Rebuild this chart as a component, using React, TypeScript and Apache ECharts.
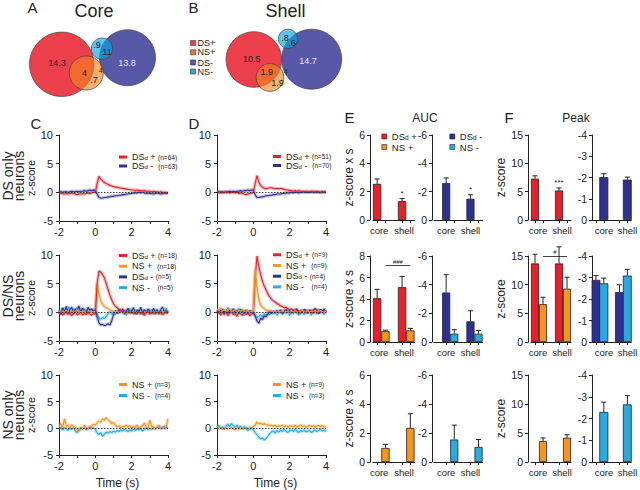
import React, { useEffect, useRef } from 'react';
import * as echarts from 'echarts';

const FONT = '"Liberation Sans", Arial, Helvetica, sans-serif';
const RED = '#e8202a';
const ORANGE = '#f7941d';
const NAVY = '#2e3192';
const CYAN = '#29abe2';
const INK = '#222';

// ---------- time axis (s) ----------
const timeS = [-2, -1.9, -1.8, -1.7, -1.6, -1.5, -1.4, -1.3, -1.2, -1.1, -1, -0.9, -0.8, -0.7, -0.6, -0.5, -0.4, -0.3, -0.2, -0.1,
  0, 0.1, 0.2, 0.3, 0.4, 0.5, 0.6, 0.7, 0.8, 0.9, 1, 1.1, 1.2, 1.3, 1.4, 1.5, 1.6, 1.7, 1.8, 1.9, 2,
  2.1, 2.2, 2.3, 2.4, 2.5, 2.6, 2.7, 2.8, 2.9, 3, 3.1, 3.2, 3.3, 3.4, 3.5, 3.6, 3.7, 3.8, 3.9, 4];

// ---------- C/D traces (z-score) ----------
const C1_DSp = [-0.2, -0.1, -0.2, -0.3, -0.2, -0.3, -0.2, -0.1, -0.2, -0.3, -0.4, -0.3, -0.3, -0.2, -0.3, -0.2, -0.1, -0.2, -0.1, 0.0,
  0.0, 1.5, 2.8, 2.3, 2.0, 1.7, 1.5, 1.4, 1.2, 1.1, 1.0,
  0.9, 0.9, 0.8, 0.7, 0.7, 0.6, 0.6, 0.5, 0.5, 0.4,
  0.4, 0.3, 0.4, 0.3, 0.3, 0.2, 0.3, 0.2, 0.2, 0.2, 0.1, 0.2, 0.1, 0.1, 0.0, 0.1, 0.0, -0.1, 0.0, -0.1];
const C1_DSm = [0.0, 0.1, 0.0, 0.1, 0.1, 0.0, 0.1, 0.2, 0.1, 0.1, 0.2, 0.1, 0.2, 0.2, 0.3, 0.2, 0.3, 0.4, 0.3, 0.4,
  0.3, -0.3, -0.9, -1.0, -1.0, -0.9, -0.9, -0.8, -0.8, -0.7, -0.7,
  -0.6, -0.6, -0.5, -0.5, -0.4, -0.4, -0.3, -0.3, -0.2, -0.2,
  -0.1, -0.1, -0.1, 0.0, -0.1, 0.0, -0.1, -0.2, -0.1, -0.2, -0.2, -0.3, -0.2, -0.1, -0.2, -0.3, -0.2, -0.1, -0.2, -0.1];
const D1_DSp = [0.0, 0.1, 0.0, -0.1, 0.0, 0.1, 0.0, -0.1, 0.0, 0.0, -0.1, 0.0, -0.2, -0.1, -0.2, -0.3, -0.4, -0.3, -0.2, -0.1,
  0.0, 1.5, 2.9, 1.8, 1.2, 0.9, 0.7, 0.6, 0.7, 0.8, 0.8,
  0.7, 0.6, 0.7, 0.6, 0.7, 0.6, 0.5, 0.4, 0.4, 0.3,
  0.3, 0.2, 0.3, 0.2, 0.3, 0.2, 0.2, 0.1, 0.2, 0.2, 0.1, 0.2, 0.1, 0.2, 0.1, 0.1, 0.0, 0.1, 0.1, 0.0];
const D1_DSm = [0.1, 0.0, 0.1, 0.1, 0.0, 0.1, 0.1, 0.2, 0.1, 0.2, 0.1, 0.2, 0.2, 0.3, 0.2, 0.3, 0.3, 0.4, 0.3, 0.4,
  0.4, -0.4, -0.9, -0.9, -0.8, -0.8, -0.7, -0.6, -0.6, -0.5, -0.5,
  -0.4, -0.4, -0.3, -0.3, -0.3, -0.2, -0.2, -0.1, -0.1, -0.1,
  0.0, -0.1, 0.0, 0.0, -0.1, 0.0, 0.0, 0.1, 0.0, 0.0, 0.0, 0.1, 0.0, 0.0, 0.1, 0.0, 0.0, 0.1, 0.0, 0.0];

const C2_DSp = [-0.3, 0.1, -0.5, -0.2, 0.2, -0.4, -0.1, -0.6, -0.2, 0.1, -0.4, -0.3, 0.0, -0.5, -0.2, -0.4, 0.1, -0.3, -0.5, -0.2,
  -0.3, 5.0, 7.2, 7.0, 6.6, 6.0, 5.0, 4.0, 3.0, 2.2, 1.5,
  1.1, 0.8, 0.5, 0.4, 0.2, 0.3, 0.0, 0.2, -0.1, 0.1,
  -0.2, 0.0, -0.3, 0.1, -0.2, 0.0, -0.4, -0.1, 0.1, -0.3, -0.1, 0.0, -0.3, 0.1, -0.2, 0.0, -0.4, -0.1, 0.0, -0.2];
const C2_NSp = [0.2, -0.1, 0.3, 0.0, 0.4, 0.1, -0.2, 0.3, 0.0, 0.2, 0.5, -0.1, 0.2, 0.0, 0.3, -0.2, 0.1, 0.3, 0.0, 0.2,
  0.1, 5.0, 3.2, 2.0, 1.4, 1.0, 0.8, 0.6, 0.4, 0.3, 0.2,
  0.1, 0.2, 0.0, 0.1, -0.1, 0.1, 0.0, -0.2, 0.1, 0.0,
  -0.1, 0.1, -0.2, 0.0, 0.2, -0.1, 0.0, 0.1, -0.2, 0.0, 0.1, -0.1, 0.0, 0.2, -0.1, 0.0, -0.2, 0.1, 0.0, -0.1];
const C2_DSm = [0.3, -0.4, 0.8, 0.2, 1.0, -0.2, 0.5, 0.9, -0.3, 0.6, 0.2, 1.1, 0.0, 0.7, 0.4, -0.2, 0.9, 0.3, 0.6, 0.2,
  0.4, -0.8, -1.8, -2.2, -2.1, -2.3, -2.2, -2.0, -2.2, -1.5, -0.4,
  0.3, -0.2, 0.5, 0.0, 0.6, -0.3, 0.2, 0.7, -0.1, 0.3,
  0.8, -0.2, 0.4, 0.1, 0.9, -0.3, 0.5, 0.0, 0.6, 0.2, -0.2, 0.7, 0.1, 0.4, -0.3, 0.5, 0.9, 0.0, 0.3, -0.1];
const C2_NSm = [0.5, 0.0, 0.7, -0.3, 0.4, 1.0, 0.2, -0.2, 0.6, 0.3, 0.9, -0.1, 0.4, 0.7, 0.1, 0.5, -0.3, 0.6, 0.2, 0.4,
  0.2, -0.4, -1.0, -1.2, -0.9, -1.1, -0.7, -0.2, 0.1, -0.3, 0.0,
  -0.4, 0.2, -0.2, 0.4, -0.1, 0.3, -0.5, 0.1, 0.6, -0.2,
  0.2, -0.4, 0.5, 0.0, -0.3, 0.4, -0.6, 0.1, 0.3, -0.2, 0.5, -0.3, 0.0, 0.6, -0.2, 0.3, -0.4, 0.2, 0.7, -0.1];

const D2_DSp = [-0.2, 0.3, -0.5, 0.0, -0.3, 0.2, -0.6, -0.1, 0.1, -0.4, -0.2, -0.7, 0.0, -0.3, -0.5, 0.1, -0.4, -0.2, -0.6, -0.3,
  -0.2, 6.0, 9.8, 8.0, 6.6, 5.4, 4.6, 3.9, 3.2, 2.7, 2.3,
  2.0, 1.8, 1.5, 1.4, 1.1, 1.0, 0.8, 0.9, 0.6, 0.5,
  0.6, 0.2, 0.4, 0.0, 0.3, -0.2, 0.4, 0.1, -0.1, 0.3, 0.0, 0.4, -0.2, 0.2, 0.5, -0.1, 0.3, 0.0, 0.2, -0.1];
const D2_NSp = [0.6, 0.4, 0.7, 0.3, 0.5, 0.2, 0.4, 0.6, 0.1, 0.3, 0.4, 0.0, 0.3, 0.2, 0.5, 0.1, 0.3, 0.2, 0.0, 0.2,
  0.1, 7.5, 4.5, 2.2, 1.3, 0.9, 0.6, 0.4, 0.3, 0.3, 0.2,
  0.1, 0.2, 0.0, 0.2, 0.1, 0.3, 0.0, 0.1, 0.2, -0.1,
  0.2, 0.0, 0.3, 0.1, -0.1, 0.2, 0.4, 0.0, 0.1, 0.3, 0.0, 0.2, 0.1, 0.4, 0.0, 0.2, 0.3, 0.1, 0.0, 0.2];
const D2_DSm = [0.2, -0.1, 0.3, 0.5, 0.0, 0.2, -0.2, 0.4, 0.1, 0.6, 0.0, 0.3, -0.1, 0.5, 0.2, 0.0, 0.4, -0.2, 0.3, 0.1,
  0.0, -0.6, -1.5, -1.9, -1.0, -1.3, -0.6, -0.8, -0.3, 0.1, -0.2,
  0.2, -0.1, 0.3, 0.0, 0.4, -0.2, 0.2, 0.5, 0.0, 0.3,
  -0.1, 0.4, 0.1, 0.6, -0.2, 0.3, 0.0, 0.5, 0.2, -0.1, 0.4, 0.0, 0.3, 0.7, 0.1, -0.2, 0.5, 0.2, 0.6, 0.0];
const D2_NSm = [0.4, -0.3, 0.6, 0.0, -0.5, 0.3, 0.8, -0.2, 0.2, 0.5, -0.4, 0.1, 0.7, -0.1, 0.3, -0.6, 0.4, 0.0, -0.3, 0.2,
  -0.2, -0.5, -0.9, -0.7, -0.4, -0.8, -0.2, -0.5, 0.1, -0.4, 0.2,
  -0.3, 0.3, -0.5, 0.0, 0.4, -0.4, 0.2, -0.2, 0.5, -0.6,
  0.1, -0.3, 0.6, -0.1, -0.5, 0.3, 0.0, -0.4, 0.5, -0.2, 0.2, -0.5, 0.4, 0.0, -0.3, 0.6, -0.1, 0.2, -0.4, 0.3];

const C3_NSp = [0.3, 0.9, 0.0, 1.8, 0.4, 0.6, -0.2, 0.7, 0.3, 0.2, -0.3, -0.5, 0.2, 0.0, 0.6, 0.1, -0.2, 0.5, 0.2, 0.8,
  0.6, 1.0, 1.4, 1.2, 1.8, 1.5, 2.0, 1.6, 1.3, 0.9, 1.1,
  0.6, 0.3, 0.5, 0.1, 0.4, 0.3, 0.6, 0.2, 0.5, 0.0,
  0.4, 0.2, 0.6, -0.1, 0.3, 0.5, 1.0, 0.2, 0.0, 1.6, 0.3, 0.4, -0.2, 0.3, 0.6, 0.0, 0.2, -0.1, 0.4, 1.8];
const C3_NSm = [-0.1, 0.2, -0.3, 0.1, 0.0, -0.4, 0.2, -0.2, 0.1, -0.5, -0.8, -0.3, 0.0, -0.2, 0.1, -0.3, 0.0, 0.2, -0.1, 0.1,
  -0.2, -0.9, -1.2, -0.8, -1.5, -1.1, -0.7, -0.9, -0.6, -0.8, -0.5,
  -0.7, -0.4, -0.6, -0.3, -0.5, -0.2, -0.4, -0.6, -0.3, -0.5,
  -0.2, -0.4, -0.1, -0.3, 0.0, -0.5, -0.2, 0.1, -0.3, 0.0, -0.2, 0.2, -0.1, 0.1, 0.3, 0.0, 0.2, 0.4, 0.1, 0.3];
const D3_NSp = [0.1, 0.0, 0.2, -0.1, 0.0, 0.1, -0.2, 0.0, 0.1, -0.1, -0.3, 0.0, -0.2, 0.1, 0.0, -0.1, 0.2, 0.0, 0.1, 0.0,
  0.3, 0.6, 1.2, 0.8, 1.0, 0.7, 0.9, 0.6, 0.7, 0.5, 0.6,
  0.4, 0.6, 0.3, 0.5, 0.4, 0.6, 0.3, 0.5, 0.2, 0.4,
  0.5, 0.3, 0.6, 0.2, 0.4, 0.7, 0.3, 0.5, 0.2, 0.4, 0.6, 0.3, 0.5, 0.2, 0.4, 0.6, 0.3, 0.5, 0.2, 0.4];
const D3_NSm = [0.2, 0.5, 0.0, 0.3, -0.2, 0.4, 0.8, 0.3, 0.9, 0.5, 0.2, 0.6, 0.1, 0.4, -0.1, 0.3, 0.0, -0.4, -0.2, 0.1,
  -0.3, -0.8, -1.2, -1.6, -2.0, -1.8, -2.2, -1.9, -1.5, -1.0, -0.7,
  -0.5, -0.9, -0.4, -0.7, -0.3, -0.6, -0.2, -0.5, -0.8, -0.4,
  -0.3, -0.6, -0.2, -0.5, -0.8, -0.4, -0.6, -0.3, -0.7, -0.5, -0.4, -0.8, -0.5, -0.3, -0.6, -0.4, -0.2, -0.5, -0.3, -0.6];

// ---------- E (AUC) and F (Peak): [core, shell] means and SEM ----------
const groups = ['core', 'shell'];
const E1_DSp = [2.55, 1.33], E1_DSp_sem = [0.35, 0.19];
const E1_DSm = [-2.6, -1.5], E1_DSm_sem = [0.37, 0.28];
const E2_DSp = [4.07, 5.1], E2_DSp_sem = [0.83, 1.0];
const E2_NSp = [1.0, 1.08], E2_NSp_sem = [0.1, 0.19];
const E2_DSm = [-3.45, -1.44], E2_DSm_sem = [1.25, 0.74];
const E2_NSm = [-0.58, -0.58], E2_NSm_sem = [0.28, 0.22];
const E3_NSp = [0.97, 2.35], E3_NSp_sem = [0.25, 0.98];
const E3_NSm = [-1.55, -1.04], E3_NSm_sem = [0.99, 0.51];
const F1_DSp = [7.3, 5.2], F1_DSp_sem = [0.5, 0.46];
const F1_DSm = [-2.02, -1.9], F1_DSm_sem = [0.16, 0.12];
const F2_DSp = [13.7, 13.7], F2_DSp_sem = [1.6, 2.9];
const F2_NSp = [6.6, 9.3], F2_NSp_sem = [1.2, 2.0];
const F2_DSm = [-2.89, -2.32], F2_DSm_sem = [0.2, 0.34];
const F2_NSm = [-2.73, -3.09], F2_NSm_sem = [0.24, 0.29];
const F3_NSp = [3.6, 4.2], F3_NSp_sem = [0.55, 0.5];
const F3_NSm = [-2.3, -2.65], F3_NSm_sem = [0.45, 0.4];

// ---------- Venn (percent of neurons) ----------
const vennCoreLabels = ['14.3', '13.8', '4', '.7', '4', '.9', '11'];
const vennShellLabels = ['10.5', '14.7', '1.9', '1.9', '4', '.8', '.6'];
const vennLegend = ['DS+', 'NS+', 'DS-', 'NS-'];

const legendText: Record<string, string> = {
  C1p: '{a|DS}{s|d}{a| + }{n|(n=64)}', C1m: '{a|DS}{s|d}{a| -  }{n|(n=63)}',
  D1p: '{a|DS}{s|d}{a| + }{n|(n=51)}', D1m: '{a|DS}{s|d}{a| -  }{n|(n=70)}',
  C2p: '{a|DS}{s|d}{a| + }{n|(n=18)}', C2np: '{a|NS +  }{n|(n=18)}', C2m: '{a|DS}{s|d}{a| - }{n|(n=5)}', C2nm: '{a|NS -   }{n|(n=5)}',
  D2p: '{a|DS}{s|d}{a| + }{n|(n=9)}', D2np: '{a|NS +  }{n|(n=9)}', D2m: '{a|DS}{s|d}{a| - }{n|(n=4)}', D2nm: '{a|NS -   }{n|(n=4)}',
  C3np: '{a|NS + }{n|(n=3)}', C3nm: '{a|NS -  }{n|(n=4)}',
  D3np: '{a|NS + }{n|(n=9)}', D3nm: '{a|NS -  }{n|(n=3)}',
  'E DSd+': '{a|DS}{s|d}{a| +}', 'E NS+': '{a|NS +}', 'E DSd-': '{a|DS}{s|d}{a| -}', 'E NS-': '{a|NS -}',
};

const linePanels = [
  { left: 59, top: 135, height: 86, yName: 'z-score', xName: '', lg: { left: 119, top: 152.5, gap: 0 },
    traces: [{ key: 'C1m', color: NAVY, data: C1_DSm }, { key: 'C1p', color: RED, data: C1_DSp }], order: ['C1p', 'C1m'] },
  { left: 217, top: 135, height: 86, yName: '', xName: '', lg: { left: 273, top: 152, gap: 0 },
    traces: [{ key: 'D1m', color: NAVY, data: D1_DSm }, { key: 'D1p', color: RED, data: D1_DSp }], order: ['D1p', 'D1m'] },
  { left: 59, top: 255, height: 86, yName: 'z-score', xName: '', lg: { left: 119, top: 251, gap: 1.7 },
    traces: [{ key: 'C2nm', color: CYAN, data: C2_NSm }, { key: 'C2m', color: NAVY, data: C2_DSm },
      { key: 'C2np', color: ORANGE, data: C2_NSp }, { key: 'C2p', color: RED, data: C2_DSp }], order: ['C2p', 'C2np', 'C2m', 'C2nm'] },
  { left: 217, top: 255, height: 86, yName: '', xName: '', lg: { left: 273, top: 250.3, gap: 1.7 },
    traces: [{ key: 'D2nm', color: CYAN, data: D2_NSm }, { key: 'D2m', color: NAVY, data: D2_DSm },
      { key: 'D2p', color: RED, data: D2_DSp }, { key: 'D2np', color: ORANGE, data: D2_NSp }], order: ['D2p', 'D2np', 'D2m', 'D2nm'] },
  { left: 59, top: 375, height: 85, yName: 'z-score', xName: 'Time (s)', lg: { left: 119, top: 380, gap: 2 },
    traces: [{ key: 'C3nm', color: CYAN, data: C3_NSm }, { key: 'C3np', color: ORANGE, data: C3_NSp }], order: ['C3np', 'C3nm'] },
  { left: 217, top: 375, height: 85, yName: '', xName: 'Time (s)', lg: { left: 273, top: 380, gap: 2 },
    traces: [{ key: 'D3nm', color: CYAN, data: D3_NSm }, { key: 'D3np', color: ORANGE, data: D3_NSp }], order: ['D3np', 'D3nm'] },
];

const barCols: Record<string, any> = {
  EL: { left: 373, slotW: 8.3, n: 5, off: 3, a: [0, 3], b: [1, 4], ticks: [0, 1, 3, 4], lab: [0, 3], shift: 2 },
  ER: { left: 434, slotW: 8.1, n: 6, off: 2, a: [1, 4], b: [2, 5], ticks: [1, 2, 4, 5], lab: [1, 4], shift: 0 },
  FL: { left: 531, slotW: 8, n: 5, off: 3, a: [0, 3], b: [1, 4], ticks: [0, 1, 3, 4], lab: [0, 3], shift: 3 },
  FR: { left: 592, slotW: 9, n: 5, off: 0, a: [0, 3], b: [1, 4], ticks: [0, 1, 3, 4], lab: [0, 3], shift: 8 },
};
const barRows = [{ top: 135, height: 85 }, { top: 256, height: 86 }, { top: 375, height: 87 }];

const barPanels: any[] = [
  { col: 'EL', row: 0, min: 0, max: 6, step: 2, inv: false, yName: 'z-score x s',
    A: { key: 'E DSd+', color: RED, v: E1_DSp, e: E1_DSp_sem, notes: ['', '*'] }, B: { key: 'E NS+', color: ORANGE, v: [], e: [] } },
  { col: 'ER', row: 0, min: -6, max: 0, step: 2, inv: true, yName: '',
    A: { key: 'E DSd-', color: NAVY, v: E1_DSm, e: E1_DSm_sem, notes: ['', '*'] }, B: { key: 'E NS-', color: CYAN, v: [], e: [] } },
  { col: 'FL', row: 0, min: 0, max: 15, step: 5, inv: false, yName: 'z-score',
    A: { key: 'F1a', color: RED, v: F1_DSp, e: F1_DSp_sem, notes: ['', '***'] }, B: { key: 'F1b', color: ORANGE, v: [], e: [] } },
  { col: 'FR', row: 0, min: -4, max: 0, step: 1, inv: true, yName: '', aSlots: [1, 4],
    A: { key: 'F1c', color: NAVY, v: F1_DSm, e: F1_DSm_sem }, B: { key: 'F1d', color: CYAN, v: [], e: [] } },
  { col: 'EL', row: 1, min: 0, max: 8, step: 2, inv: false, yName: 'z-score x s', bracket: { y: 7.1, text: '###' },
    A: { key: 'E2a', color: RED, v: E2_DSp, e: E2_DSp_sem }, B: { key: 'E2b', color: ORANGE, v: E2_NSp, e: E2_NSp_sem } },
  { col: 'ER', row: 1, min: -6, max: 0, step: 2, inv: true, yName: '',
    A: { key: 'E2c', color: NAVY, v: E2_DSm, e: E2_DSm_sem }, B: { key: 'E2d', color: CYAN, v: E2_NSm, e: E2_NSm_sem } },
  { col: 'FL', row: 1, min: 0, max: 15, step: 5, inv: false, yName: 'z-score', bracket: { y: 15, text: '#' },
    A: { key: 'F2a', color: RED, v: F2_DSp, e: F2_DSp_sem }, B: { key: 'F2b', color: ORANGE, v: F2_NSp, e: F2_NSp_sem } },
  { col: 'FR', row: 1, min: -4, max: 0, step: 1, inv: true, yName: '',
    A: { key: 'F2c', color: NAVY, v: F2_DSm, e: F2_DSm_sem }, B: { key: 'F2d', color: CYAN, v: F2_NSm, e: F2_NSm_sem } },
  { col: 'EL', row: 2, min: 0, max: 6, step: 2, inv: false, yName: 'z-score x s',
    A: { key: 'E3a', color: RED, v: [], e: [] }, B: { key: 'E3b', color: ORANGE, v: E3_NSp, e: E3_NSp_sem } },
  { col: 'ER', row: 2, min: -6, max: 0, step: 2, inv: true, yName: '',
    A: { key: 'E3c', color: NAVY, v: [], e: [] }, B: { key: 'E3d', color: CYAN, v: E3_NSm, e: E3_NSm_sem } },
  { col: 'FL', row: 2, min: 0, max: 15, step: 5, inv: false, yName: 'z-score',
    A: { key: 'F3a', color: RED, v: [], e: [] }, B: { key: 'F3b', color: ORANGE, v: F3_NSp, e: F3_NSp_sem } },
  { col: 'FR', row: 2, min: -4, max: 0, step: 1, inv: true, yName: '',
    A: { key: 'F3c', color: NAVY, v: [], e: [] }, B: { key: 'F3d', color: CYAN, v: F3_NSm, e: F3_NSm_sem } },
];

function txt(text: string, x: number, y: number, size: number, extra: any = {}) {
  return {
    type: 'text', x, y, silent: true, ...extra,
    style: { text, fontSize: size, fontFamily: FONT, fill: INK, textAlign: 'center', textVerticalAlign: 'middle', ...(extra.style || {}) },
  };
}

function buildOption() {
  const grid: any[] = [], xAxis: any[] = [], yAxis: any[] = [], series: any[] = [], legend: any[] = [];
  const axisLine = { show: true, onZero: false, lineStyle: { color: INK, width: 1 } };
  const axisTick = { show: true, length: 3, lineStyle: { color: INK, width: 1 } };

  // ---- C / D line panels ----
  linePanels.forEach((p) => {
    const gi = grid.length;
    grid.push({ left: p.left, top: p.top, width: 109, height: p.height });
    xAxis.push({
      type: 'value', gridIndex: gi, min: -2, max: 4, interval: 1,
      axisLine, axisTick, splitLine: { show: false },
      axisLabel: { formatter: (v: number) => (v % 2 === 0 ? String(v) : ''), fontSize: 11, color: INK, margin: 5, fontFamily: FONT },
      name: p.xName, nameLocation: 'middle', nameGap: 22,
      nameTextStyle: { fontSize: 12, fontFamily: FONT, color: INK, padding: [0, 0, 0, 8] },
    });
    yAxis.push({
      type: 'value', gridIndex: gi, min: -5, max: 10, interval: 5,
      axisLine, axisTick, splitLine: { show: false },
      axisLabel: { fontSize: 11, color: INK, margin: 6, fontFamily: FONT },
      name: p.yName, nameLocation: 'middle', nameGap: 17, nameRotate: 90,
      nameTextStyle: { fontSize: 11, fontFamily: FONT, color: INK },
    });
    p.traces.forEach((t, k) => {
      const pts = timeS.map((s, i) => [s, t.data[i]]);
      series.push({
        type: 'line', name: t.key + '-band', xAxisIndex: gi, yAxisIndex: gi, data: pts, symbol: 'none', silent: true,
        lineStyle: { color: t.color, width: 3.5, opacity: 0.3 }, itemStyle: { color: t.color }, z: 2,
        markLine: k === 0 ? {
          silent: true, symbol: 'none', label: { show: false },
          lineStyle: { color: '#333', type: [1.5, 1.5], width: 0.9 }, data: [{ yAxis: 0 }],
        } : undefined,
      });
    });
    p.traces.forEach((t) => {
      const pts = timeS.map((s, i) => [s, t.data[i]]);
      series.push({
        type: 'line', name: t.key, xAxisIndex: gi, yAxisIndex: gi, data: pts, symbol: 'none', silent: true,
        lineStyle: { color: t.color, width: 1.1 }, itemStyle: { color: t.color }, z: 3,
      });
    });
    legend.push({
      left: p.lg.left, top: p.lg.top, orient: 'vertical', padding: 0, itemGap: p.lg.gap,
      itemWidth: 8, itemHeight: 3, icon: 'rect', selectedMode: false, data: p.order,
      formatter: (name: string) => legendText[name],
      textStyle: {
        color: INK, fontFamily: FONT, fontSize: 9,
        rich: {
          a: { fontSize: 9, lineHeight: 8, fontFamily: FONT, color: INK },
          s: { fontSize: 6, lineHeight: 5, verticalAlign: 'bottom', fontFamily: FONT, color: INK },
          n: { fontSize: 6.5, lineHeight: 8, fontFamily: FONT, color: INK },
        },
      },
    });
  });

  // ---- E / F bar panels ----
  barPanels.forEach((p) => {
    const c = barCols[p.col];
    const r = barRows[p.row];
    const gi = grid.length;
    const cats = Array.from({ length: c.n }, (_, i) => 's' + i);
    grid.push({ left: c.left, top: r.top, width: c.slotW * c.n, height: r.height });
    xAxis.push({
      type: 'category', gridIndex: gi, data: cats, axisLine,
      axisTick: { ...axisTick, alignWithLabel: true, interval: (i: number) => c.ticks.includes(i) },
      axisLabel: {
        interval: 0, margin: 5, fontSize: 9.5, color: INK, fontFamily: FONT,
        formatter: (_v: string, i: number) => (i === c.lab[0] ? '{g|' + groups[0] + '}' : i === c.lab[1] ? '{g|' + groups[1] + '}' : ''),
        rich: { g: { fontSize: 9.5, fontFamily: FONT, color: INK, padding: [0, 0, 0, c.shift * 2] } },
      },
    });
    yAxis.push({
      type: 'value', gridIndex: gi, min: p.min, max: p.max, interval: p.step, inverse: p.inv, offset: c.off,
      axisLine, axisTick, splitLine: { show: false },
      axisLabel: { fontSize: 10.5, color: INK, margin: 5, fontFamily: FONT },
      name: p.yName, nameLocation: 'middle', nameGap: 13, nameRotate: 90,
      nameTextStyle: { fontSize: 12, fontFamily: FONT, color: INK },
    });
    const errRows: any[] = [];
    const errNotes: string[] = [];
    ['A', 'B'].forEach((which) => {
      const s = p[which];
      const slots = which === 'A' ? (p.aSlots || c.a) : c.b;
      const data: any[] = cats.map(() => '-');
      s.v.forEach((v: number, k: number) => {
        data[slots[k]] = v;
        errRows.push([cats[slots[k]], v, s.e[k]]);
        errNotes.push(s.notes ? s.notes[k] : '');
      });
      const bar: any = {
        type: 'bar', name: s.key, xAxisIndex: gi, yAxisIndex: gi, data, barWidth: c.slotW, barGap: '-100%', silent: true,
        itemStyle: { color: s.color, borderColor: INK, borderWidth: 0.8 },
      };
      if (which === 'A' && p.bracket) {
        bar.markLine = {
          silent: true, symbol: 'none',
          lineStyle: { color: '#444', type: 'solid', width: 1 },
          label: { show: true, position: 'insideMiddleTop', formatter: p.bracket.text, fontSize: 6, color: INK, distance: 1 },
          data: [[{ coord: [cats[c.a[0] + 1], p.bracket.y] }, { coord: [cats[c.a[1] + 1], p.bracket.y] }]],
        };
      }
      series.push(bar);
    });
    series.push({
      type: 'custom', xAxisIndex: gi, yAxisIndex: gi, silent: true, z: 5, data: errRows,
      encode: { x: 0, y: 1 },
      renderItem: (params: any, api: any) => {
        const x = api.value(0), v = api.value(1), e = api.value(2);
        const end = v + (v < 0 ? -e : e);
        const p0 = api.coord([x, v]);
        const p1 = api.coord([x, end]);
        const ch: any[] = [
          { type: 'line', shape: { x1: p0[0], y1: p0[1], x2: p1[0], y2: p1[1] }, style: { stroke: INK, lineWidth: 1 } },
          { type: 'line', shape: { x1: p1[0] - 2.5, y1: p1[1], x2: p1[0] + 2.5, y2: p1[1] }, style: { stroke: INK, lineWidth: 1 } },
        ];
        const note = errNotes[params.dataIndex];
        if (note) {
          ch.push({ type: 'text', x: p1[0], y: p1[1] - 1, style: { text: note, textAlign: 'center', textVerticalAlign: 'bottom', fontSize: 8, fontFamily: FONT, fill: INK } });
        }
        return { type: 'group', children: ch };
      },
    });
  });

  const eRich = {
    a: { fontSize: 9.5, lineHeight: 9, fontFamily: FONT, color: INK },
    s: { fontSize: 6.5, lineHeight: 6, verticalAlign: 'bottom', fontFamily: FONT, color: INK },
  };
  legend.push({
    left: 381.5, top: 131.5, orient: 'vertical', padding: 0, itemGap: 0.5, itemWidth: 5, itemHeight: 5, icon: 'rect',
    selectedMode: false, data: ['E DSd+', 'E NS+'], formatter: (n: string) => legendText[n],
    itemStyle: { borderColor: INK, borderWidth: 0.6 }, textStyle: { fontFamily: FONT, fontSize: 9.5, color: INK, rich: eRich },
  });
  legend.push({
    left: 449.5, top: 131.5, orient: 'vertical', padding: 0, itemGap: 0.5, itemWidth: 5, itemHeight: 5, icon: 'rect',
    selectedMode: false, data: ['E DSd-', 'E NS-'], formatter: (n: string) => legendText[n],
    itemStyle: { borderColor: INK, borderWidth: 0.6 }, textStyle: { fontFamily: FONT, fontSize: 9.5, color: INK, rich: eRich },
  });

  // ---- Venn diagrams and headings (graphic) ----
  const VRED = '#ee3f4c', VBLUE = '#5858a8';
  const ORANGE_T = 'rgba(244,132,32,0.64)', CYAN_T = 'rgba(10,165,225,0.65)';
  const edge = { stroke: '#444', lineWidth: 0.7 };
  const circle = (cx: number, cy: number, r: number, fill: string) => ({ type: 'circle', silent: true, shape: { cx, cy, r }, style: { fill, ...edge } });
  const small = (t: string, x: number, y: number, size = 9, fill = INK) => txt(t, x, y, size, { style: { fill } });
  const graphic: any[] = [
    // A: core
    circle(61.7, 64.3, 32.2, VRED), circle(127.5, 57.7, 28, VBLUE), circle(86.3, 73, 17, ORANGE_T), circle(102, 48.7, 10.7, CYAN_T),
    small(vennCoreLabels[0], 57, 63), small(vennCoreLabels[1], 127, 63, 9, '#e6e6f2'), small(vennCoreLabels[2], 84.5, 72.5),
    small(vennCoreLabels[3], 94, 80), small(vennCoreLabels[4], 100.7, 70.5, 7), small(vennCoreLabels[5], 97, 45), small(vennCoreLabels[6], 107, 51.5),
    // B: shell
    circle(253.8, 59.5, 27.8, VRED), circle(311.7, 59.2, 30, VBLUE), circle(270, 77.5, 13.9, ORANGE_T), circle(288, 38.8, 9.6, CYAN_T),
    small(vennShellLabels[0], 251.7, 59), small(vennShellLabels[1], 308, 61, 9, '#e6e6f2'), small(vennShellLabels[2], 266.7, 71.7),
    small(vennShellLabels[3], 277.5, 83.3), small(vennShellLabels[4], 285.5, 71, 7), small(vennShellLabels[5], 285, 37.8), small(vennShellLabels[6], 292, 43.3),
    // titles and panel letters
    txt('Core', 94, 10.5, 18), txt('Shell', 285.5, 10.5, 18),
    txt('A', 32.5, 7.5, 15), txt('B', 193.5, 7.5, 15), txt('C', 36, 123.5, 15), txt('D', 194, 123.5, 15),
    txt('E', 349.5, 117.5, 15), txt('F', 509, 117.5, 15), txt('AUC', 425, 117.5, 12), txt('Peak', 576, 117.5, 12),
    // row labels
    txt('DS only\nneurons', 13, 176, 14, { rotation: Math.PI / 2, style: { lineHeight: 11 } }),
    txt('DS/NS\nneurons', 13, 296, 14, { rotation: Math.PI / 2, style: { lineHeight: 11 } }),
    txt('NS only\nneurons', 13, 415, 14, { rotation: Math.PI / 2, style: { lineHeight: 11 } }),
  ];
  const vennLegendColors = [VRED, '#f07b2c', VBLUE, '#2fa9e0'];
  const vennLegendY = [43, 52.3, 62.5, 71.5];
  vennLegend.forEach((name, i) => {
    graphic.push({ type: 'rect', silent: true, shape: { x: 190.5, y: vennLegendY[i] - 2.5, width: 5, height: 5 }, style: { fill: vennLegendColors[i], stroke: '#333', lineWidth: 0.6 } });
    graphic.push(txt(name, 197.5, vennLegendY[i], 9, { style: { textAlign: 'left' } }));
  });

  return { animation: false, backgroundColor: '#fff', grid, xAxis, yAxis, series, legend, graphic };
}

export default function App() {
  const ref = useRef<HTMLDivElement>(null);
  useEffect(() => {
    if (!ref.current) return;
    const chart = echarts.init(ref.current, null, { renderer: 'svg', width: 640, height: 490 });
    chart.setOption(buildOption() as any);
    return () => chart.dispose();
  }, []);
  return <div ref={ref} style={{ position: 'fixed', left: 0, top: 0, width: 640, height: 490, background: '#fff' }} />;
}
